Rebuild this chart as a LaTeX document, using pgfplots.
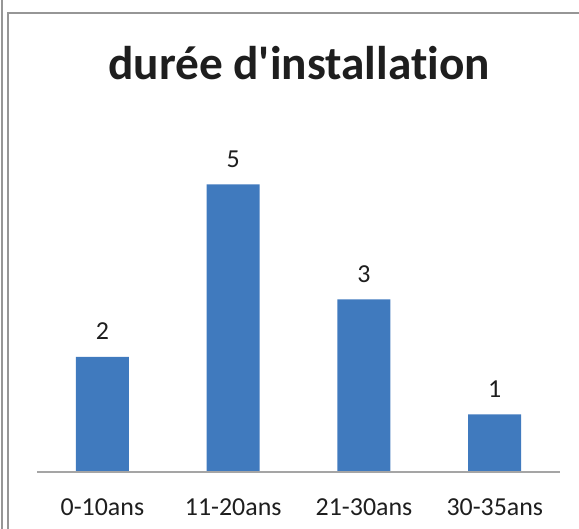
\documentclass[border=0pt]{standalone}
\usepackage{pgfplots}
\pgfplotsset{compat=1.18}
\usepackage{fontspec}
\setmainfont{Carlito}[Ligatures={TeXOff,CommonOff}]
\definecolor{barblue}{RGB}{64,122,190}
\definecolor{framegray}{RGB}{150,150,150}
\definecolor{axisgray}{RGB}{165,165,165}
\definecolor{txt}{RGB}{30,30,30}
\begin{document}
\begin{tikzpicture}[x=1bp,y=1bp]
\path[use as bounding box] (0,0) rectangle (579,529);
\draw[framegray, line width=1.2bp] (2,0) -- (2,529);
\draw[framegray, line width=1.2bp] (8,0) -- (8,516) -- (579,516);
\node[txt, anchor=base, font=\bfseries\fontsize{47.5}{54}\selectfont, inner sep=0pt] at (299,449) {durée d'installation};
\begin{axis}[
  at={(37bp,57bp)}, anchor=south west,
  width=523bp, height=345bp, scale only axis,
  xmin=-0.5, xmax=3.5, ymin=0, ymax=6,
  axis lines=none,
  ybar, bar width=53bp,
  /pgf/number format/assume math mode=true,
  nodes near coords,
  every node near coord/.append style={font=\fontsize{26}{30}\selectfont, text=txt, inner sep=0pt, anchor=south, yshift=17bp},
  clip=false,
]
\addplot[fill=barblue, draw=none] coordinates {(0,2) (1,5) (2,3) (3,1)};
\draw[axisgray, line width=1.2bp] (rel axis cs:0,0) -- (rel axis cs:1,0);
\end{axis}
\foreach \x/\l in {102.4/0-10ans,233.2/11-20ans,364/21-30ans,494.8/30-35ans}{
  \node[txt, anchor=base, font=\fontsize{26}{30}\selectfont, inner sep=0pt] at (\x,13) {\l};
}
\end{tikzpicture}
\end{document}
